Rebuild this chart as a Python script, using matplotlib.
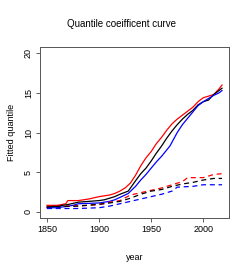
import matplotlib
matplotlib.use("Agg")
import matplotlib.pyplot as plt

plt.rcParams['font.family'] = ['Liberation Sans', 'DejaVu Sans']

# Solid curves (upper quantile)
yr_red = [1850, 1860, 1868, 1870, 1880, 1890, 1900, 1905, 1910, 1915, 1920, 1925, 1930, 1935, 1940, 1945, 1950, 1955, 1960, 1965, 1970, 1975, 1980, 1985, 1990, 1995, 2000, 2005, 2010, 2015, 2018]
val_red = [0.8, 0.8, 1.0, 1.4, 1.4, 1.6, 1.9, 2.0, 2.1, 2.3, 2.6, 3.0, 3.6, 4.6, 5.8, 6.8, 7.6, 8.6, 9.4, 10.3, 11.1, 11.7, 12.2, 12.7, 13.2, 13.9, 14.4, 14.6, 14.8, 15.5, 16.0]
yr_blk = [1850, 1860, 1870, 1880, 1890, 1900, 1905, 1910, 1915, 1920, 1928, 1935, 1940, 1945, 1950, 1955, 1960, 1965, 1970, 1975, 1980, 1985, 1990, 1995, 2000, 2005, 2010, 2015, 2018]
val_blk = [0.6, 0.7, 0.9, 1.2, 1.3, 1.4, 1.5, 1.7, 1.9, 2.2, 2.6, 3.9, 4.8, 5.5, 6.4, 7.4, 8.3, 9.3, 10.2, 11.0, 11.7, 12.3, 12.8, 13.5, 13.9, 14.1, 14.8, 15.3, 15.6]
yr_blu = [1850, 1860, 1875, 1880, 1890, 1900, 1905, 1910, 1915, 1920, 1928, 1935, 1940, 1945, 1950, 1955, 1960, 1968, 1975, 1980, 1985, 1990, 1995, 2000, 2005, 2010, 2015, 2018]
val_blu = [0.5, 0.5, 0.8, 1.0, 1.05, 1.1, 1.2, 1.3, 1.5, 1.8, 2.3, 3.2, 4.0, 4.7, 5.5, 6.3, 7.0, 8.3, 10.0, 11.0, 11.8, 12.6, 13.4, 13.9, 14.3, 14.7, 15.0, 15.3]

# Dashed curves (lower quantile)
yr_dred = [1850, 1870, 1890, 1900, 1910, 1920, 1930, 1940, 1950, 1960, 1970, 1980, 1985, 2000, 2010, 2018]
val_dred = [0.7, 0.7, 0.8, 0.9, 1.2, 1.4, 2.1, 2.4, 2.7, 3.0, 3.4, 3.8, 4.3, 4.3, 4.7, 4.8]
yr_dblk = [1850, 1880, 1905, 1920, 1930, 1940, 1950, 1960, 1970, 1980, 1990, 2000, 2010, 2018]
val_dblk = [0.6, 0.7, 1.0, 1.3, 1.7, 2.2, 2.6, 2.8, 3.2, 3.5, 3.7, 4.0, 4.2, 4.2]
yr_dblu = [1850, 1880, 1900, 1910, 1920, 1930, 1940, 1950, 1960, 1970, 1975, 1990, 2000, 2018]
val_dblu = [0.4, 0.4, 0.5, 0.7, 1.0, 1.3, 1.6, 1.9, 2.2, 2.6, 3.1, 3.2, 3.4, 3.4]

xticks = [1850, 1900, 1950, 2000]
yticks = [0, 5, 10, 15, 20]

fig = plt.figure(figsize=(2.5, 2.77), dpi=100)
ax = fig.add_axes([0.16, 0.213, 0.756, 0.617])

lw = 0.9
ax.plot(yr_red, val_red, color='red', lw=lw)
ax.plot(yr_blk, val_blk, color='black', lw=lw)
ax.plot(yr_blu, val_blu, color='blue', lw=lw)
ax.plot(yr_dred, val_dred, color='red', lw=lw, ls=(0, (4, 3)))
ax.plot(yr_dblk, val_dblk, color='black', lw=lw, ls=(0, (4, 3)))
ax.plot(yr_dblu, val_dblu, color='blue', lw=lw, ls=(0, (4, 3)))

ax.set_xlim(1843.3, 2024.7)
ax.set_ylim(-0.8, 20.8)
ax.set_xticks(xticks)
ax.set_yticks(yticks)
ax.set_xticklabels([str(t) for t in xticks], fontsize=6.5)
ax.set_yticklabels([str(t) for t in yticks], fontsize=6.5, rotation=90, va='center')
ax.tick_params(length=3, width=0.6, color='#444444', pad=2)
for s in ax.spines.values():
    s.set_color('#555555')
    s.set_linewidth(0.7)

ax.set_xlabel('year', fontsize=6.5, labelpad=14)
ax.set_ylabel('Fitted quantile', fontsize=6.5, labelpad=6)
fig.text(0.485, 0.915, 'Quantile coeifficent curve', ha='center', va='center', fontsize=7)

fig.savefig('out.png', dpi=100)
